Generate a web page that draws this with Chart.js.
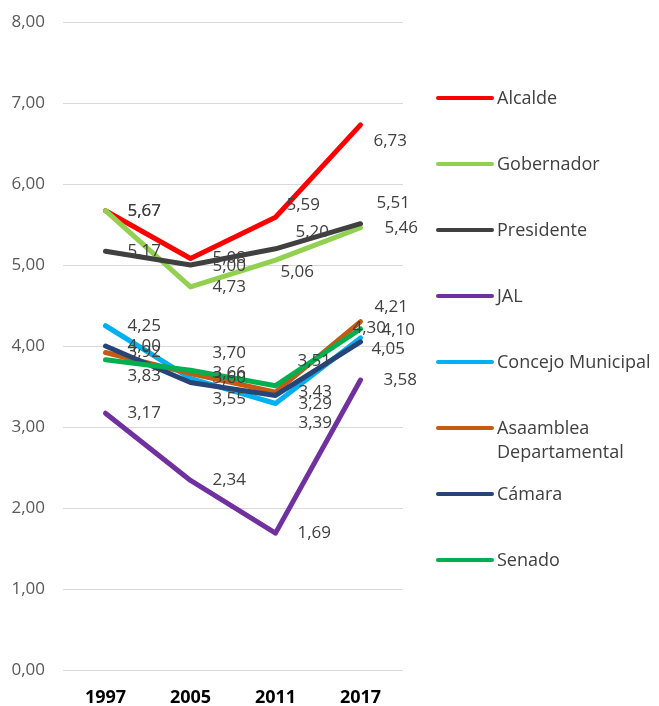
<!DOCTYPE html>
<html>
<head>
<meta charset="utf-8">
<script src="https://cdn.jsdelivr.net/npm/chart.js@4.4.0/dist/chart.umd.min.js"></script>
<style>
  html, body { margin: 0; padding: 0; background: #fff; }
  #wrap { width: 659px; height: 706px; position: relative; }
</style>
</head>
<body>
<div id="wrap"><canvas id="chart"></canvas></div>
<script>
// Years on the x axis
const years = ["1997", "2005", "2011", "2017"];

// One series per office
const alcalde = [5.67, 5.08, 5.59, 6.73];
const gobernador = [5.67, 4.73, 5.06, 5.46];
const presidente = [5.17, 5.00, 5.20, 5.51];
const jal = [3.17, 2.34, 1.69, 3.58];
const concejo = [4.25, 3.60, 3.29, 4.10];
const asamblea = [3.92, 3.66, 3.43, 4.30];
const camara = [4.00, 3.55, 3.39, 4.05];
const senado = [3.83, 3.70, 3.51, 4.21];

// Y axis range
const yMin = 0;
const yMax = 8;
const yStep = 1;

const fmt = (v) => v.toFixed(2).replace(".", ",");

// series definitions: label, values, colour, label nudges [dx, dy] per point
const series = [
  { label: "Alcalde", data: alcalde, color: "#FF0000",
    nudge: [[22, 0], [22, 0], [11, -12], [13, 16]] },
  { label: "Gobernador", data: gobernador, color: "#92D050",
    nudge: [[22, 0], [22, 0], [5, 12], [24, 0]] },
  { label: "Presidente", data: presidente, color: "#404040",
    nudge: [[22, 0], [22, 1], [20, -17], [16, -21]] },
  { label: "JAL", data: jal, color: "#7030A0",
    nudge: [[22, 0], [22, 0], [22, 0], [23, 0]] },
  { label: "Concejo Municipal", data: concejo, color: "#00B0F0",
    nudge: [[22, 0], [22, 0], [23, 1], [21, -8]] },
  { label: ["Asaamblea", "Departamental"], data: asamblea, color: "#C55A11",
    nudge: [[22, 0], [22, 0], [23, 0], [-8, 6]] },
  { label: "Cámara", data: camara, color: "#264478",
    nudge: [[22, 0], [22, 17], [23, 28], [11, 7]] },
  { label: "Senado", data: senado, color: "#00B050",
    nudge: [[22, 16], [22, -17], [22, -25], [14, -22]] },
];

// value labels next to each point
const valueLabels = {
  id: "valueLabels",
  afterDatasetsDraw(chart) {
    const ctx = chart.ctx;
    ctx.save();
    ctx.font = "17px 'Open Sans'";
    ctx.fillStyle = "#404040";
    ctx.textAlign = "left";
    ctx.textBaseline = "middle";
    series.forEach((s, i) => {
      const meta = chart.getDatasetMeta(i);
      meta.data.forEach((pt, j) => {
        const [dx, dy] = s.nudge[j];
        ctx.fillText(fmt(s.data[j]), pt.x + dx, pt.y + dy);
      });
    });
    ctx.restore();
  },
};

// legend on the right, one entry per series
const sideLegend = {
  id: "sideLegend",
  afterDraw(chart) {
    const ctx = chart.ctx;
    ctx.save();
    ctx.font = "18px 'Open Sans'";
    ctx.textAlign = "left";
    ctx.textBaseline = "middle";
    series.forEach((s, i) => {
      const y = 98 + i * 66;
      ctx.strokeStyle = s.color;
      ctx.lineWidth = 4;
      ctx.lineCap = "round";
      ctx.beginPath();
      ctx.moveTo(438, y);
      ctx.lineTo(492, y);
      ctx.stroke();
      ctx.fillStyle = "#404040";
      const lines = Array.isArray(s.label) ? s.label : [s.label];
      lines.forEach((t, k) => ctx.fillText(t, 497, y + 1 + k * 24));
    });
    ctx.restore();
  },
};

new Chart(document.getElementById("chart"), {
  type: "line",
  data: {
    labels: years,
    datasets: series.map((s, i) => ({
      label: Array.isArray(s.label) ? s.label.join(" ") : s.label,
      data: s.data,
      borderColor: s.color,
      backgroundColor: s.color,
      borderWidth: 5,
      borderCapStyle: "round",
      borderJoinStyle: "round",
      pointRadius: 0,
      tension: 0,
      order: series.length - i,
    })),
  },
  options: {
    responsive: true,
    maintainAspectRatio: false,
    animation: false,
    layout: { padding: { top: 22, right: 256, bottom: 0, left: 0 } },
    plugins: {
      legend: { display: false },
      tooltip: { enabled: false },
    },
    scales: {
      x: {
        offset: true,
        grid: { display: false, drawTicks: false },
        border: { display: false },
        ticks: {
          color: "#000",
          font: { family: "'Open Sans'", size: 18, weight: "bold" },
          padding: 17,
        },
        afterFit(scale) { scale.height = 36; },
      },
      y: {
        min: yMin,
        max: yMax,
        grid: { color: "#D9D9D9", lineWidth: 1, drawTicks: false },
        border: { display: false },
        ticks: {
          stepSize: yStep,
          color: "#595959",
          font: { family: "'Open Sans'", size: 17 },
          padding: 18,
          callback: (v) => fmt(v),
        },
        afterFit(scale) {
          scale.width = 63;
          scale.paddingTop = 0;
          scale.paddingBottom = 0;
        },
      },
    },
  },
  plugins: [valueLabels, sideLegend],
});
</script>
</body>
</html>
